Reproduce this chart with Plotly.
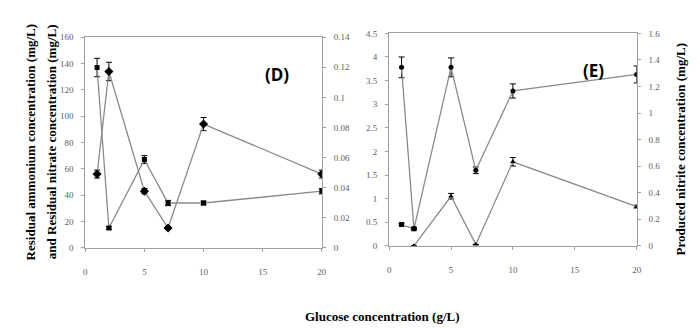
import plotly.graph_objects as go

glucose = [1, 2, 5, 7, 10, 20]

# Panel D (left axis, mg/L)
d_diamond = [56, 134, 43, 15, 94, 56]
d_diamond_err = [3, 7, 2, 1, 5, 3]
d_square = [137, 15, 67, 34, 34, 43]
d_square_err = [7, 1, 3, 2, 1.5, 2]

# Panel E (left axis units)
e_circle = [3.78, 0.36, 3.78, 1.60, 3.28, 3.63]
e_circle_err = [0.22, 0.02, 0.2, 0.07, 0.15, 0.18]
e_square_x = [1, 2]
e_square = [0.45, 0.36]
e_square_err = [0.02, 0.02]
e_tri_x = [2, 5, 7, 10, 20]
e_tri = [0.0, 1.05, 0.03, 1.78, 0.83]
e_tri_err = [0.0, 0.06, 0.0, 0.09, 0.03]

LINE = "#8a8a8a"
AX = "#a0a0a0"
TICKF = dict(family="Liberation Serif", size=9, color="#606060")

fig = go.Figure()

def add(x, y, err, sym, size, xa, ya):
    fig.add_trace(go.Scatter(
        x=x, y=y, mode="lines+markers", xaxis=xa, yaxis=ya,
        line=dict(color=LINE, width=1.3),
        marker=dict(symbol=sym, size=size, color="black"),
        error_y=dict(type="data", array=err, visible=True, color="black", thickness=1, width=3),
        showlegend=False, hoverinfo="skip"))

add(glucose, d_square, d_square_err, "square", 5, "x", "y")
add(glucose, d_diamond, d_diamond_err, "diamond", 7, "x", "y")
add(glucose, e_circle, e_circle_err, "circle", 5, "x2", "y3")
add(e_square_x, e_square, e_square_err, "square", 5, "x2", "y3")
add(e_tri_x, e_tri, e_tri_err, "triangle-up", 5, "x2", "y3")

# invisible traces to anchor right axes
fig.add_trace(go.Scatter(x=[0], y=[0], xaxis="x", yaxis="y2", mode="markers",
                         marker=dict(opacity=0), showlegend=False, hoverinfo="skip"))
fig.add_trace(go.Scatter(x=[0], y=[0], xaxis="x2", yaxis="y4", mode="markers",
                         marker=dict(opacity=0), showlegend=False, hoverinfo="skip"))

xcommon = dict(range=[0, 20], tickvals=[0, 5, 10, 15, 20], showgrid=False, zeroline=False,
               showline=True, linecolor=AX, linewidth=1, mirror=True, ticks="outside",
               ticklen=3, tickcolor=AX, tickfont=TICKF, ticklabelstandoff=12)
ycommon = dict(showgrid=False, zeroline=False, showline=True, linecolor=AX, linewidth=1,
               ticks="outside", ticklen=3, tickcolor=AX, tickfont=TICKF, ticklabelstandoff=6)

d_dom_y = [1 - 242 / 334, 1 - 25 / 334]
e_dom_y = [1 - 240 / 334, 1 - 21 / 334]

fig.update_layout(
    width=700, height=334, margin=dict(l=0, r=0, t=0, b=0),
    paper_bgcolor="white", plot_bgcolor="white",
    xaxis=dict(domain=[76 / 700, 315 / 700], anchor="y", **xcommon),
    xaxis2=dict(domain=[383 / 700, 633 / 700], anchor="y3", **xcommon),
    yaxis=dict(domain=d_dom_y, anchor="x", range=[0, 160], dtick=20, **ycommon),
    yaxis2=dict(overlaying="y", side="right", anchor="x", range=[0, 0.14], dtick=0.02, **ycommon),
    yaxis3=dict(domain=e_dom_y, anchor="x2", range=[0, 4.5], dtick=0.5, **ycommon),
    yaxis4=dict(overlaying="y3", side="right", anchor="x2", range=[0, 1.6], dtick=0.2, **ycommon),
)

TITLEF = dict(family="Liberation Serif", size=13, color="black")
fig.add_annotation(text="<b>Residual ammonium concentration (mg/L)</b>", x=11 / 700, y=1 - 133 / 334,
                   xref="paper", yref="paper", textangle=-90, showarrow=False, font=TITLEF)
fig.add_annotation(text="<b>and Residual nitrate concentration (mg/L)</b>", x=32 / 700, y=1 - 133 / 334,
                   xref="paper", yref="paper", textangle=-90, showarrow=False, font=TITLEF)
fig.add_annotation(text="<b>Produced nitrite concentration (mg/L)</b>", x=687 / 700, y=1 - 141 / 334,
                   xref="paper", yref="paper", textangle=-90, showarrow=False, font=TITLEF)
fig.add_annotation(text="<b>Glucose concentration (g/L)</b>", x=376 / 700, y=1 - 323 / 334,
                   xref="paper", yref="paper", showarrow=False, font=TITLEF)
LABF = dict(family="Open Sans", size=17, color="black")
fig.add_annotation(text="<b>(D)</b>", x=270 / 700, y=1 - 49 / 334, xref="paper", yref="paper",
                   showarrow=False, font=LABF)
fig.add_annotation(text="<b>(E)</b>", x=602 / 700, y=1 - 45 / 334, xref="paper", yref="paper",
                   showarrow=False, font=LABF)

fig.add_shape(type="line", xref="paper", yref="paper", x0=699 / 700, x1=699 / 700, y0=0, y1=1,
              line=dict(color="#b0b0b0", width=1, dash="dot"))

fig.write_html("out.html")
